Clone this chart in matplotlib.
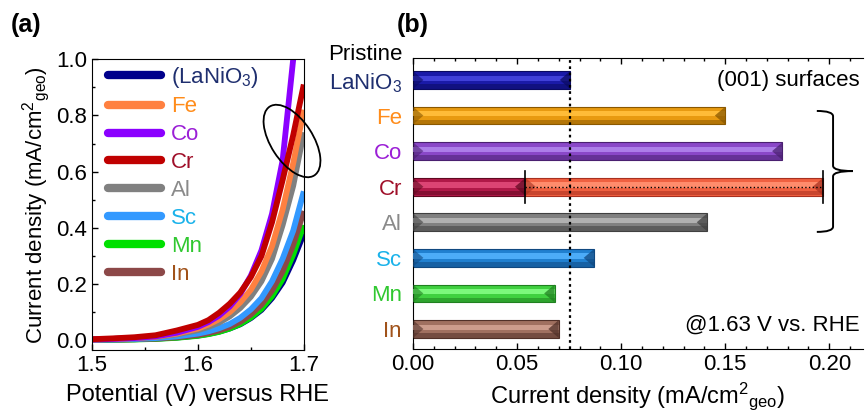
import matplotlib
matplotlib.use("Agg")
import matplotlib.pyplot as plt
from matplotlib.patches import Ellipse, Polygon, PathPatch
from matplotlib.path import Path
from matplotlib.lines import Line2D
from matplotlib.ticker import MultipleLocator, FormatStrFormatter
import numpy as np

plt.rcParams["font.family"] = ["Liberation Sans", "DejaVu Sans"]
plt.rcParams["mathtext.fontset"] = "custom"
plt.rcParams["mathtext.rm"] = "Liberation Sans"
plt.rcParams["mathtext.it"] = "Liberation Sans:italic"
plt.rcParams["mathtext.bf"] = "Liberation Sans:bold"

# ---- (a) polarisation curves ----
potential = [1.50, 1.52, 1.54, 1.56, 1.58, 1.60, 1.61, 1.62, 1.63, 1.64, 1.65, 1.66, 1.67, 1.68, 1.69, 1.70]
j_lanio3 = [0.002, 0.003, 0.004, 0.006, 0.010, 0.017, 0.023, 0.031, 0.042, 0.057, 0.079, 0.108, 0.150, 0.205, 0.285, 0.380]
j_fe = [0.003, 0.005, 0.008, 0.013, 0.024, 0.042, 0.056, 0.075, 0.100, 0.135, 0.180, 0.245, 0.335, 0.465, 0.630, 0.820]
j_co = [0.003, 0.005, 0.008, 0.014, 0.027, 0.048, 0.065, 0.088, 0.120, 0.165, 0.230, 0.320, 0.450, 0.640, 1.000, 1.400]
j_cr = [0.004, 0.007, 0.011, 0.018, 0.035, 0.055, 0.072, 0.098, 0.130, 0.170, 0.225, 0.300, 0.420, 0.570, 0.730, 0.910]
j_al = [0.003, 0.005, 0.008, 0.012, 0.021, 0.036, 0.048, 0.063, 0.085, 0.115, 0.155, 0.210, 0.290, 0.410, 0.550, 0.740]
j_sc = [0.002, 0.003, 0.005, 0.008, 0.014, 0.024, 0.032, 0.043, 0.058, 0.080, 0.110, 0.150, 0.210, 0.290, 0.390, 0.530]
j_mn = [0.001, 0.002, 0.003, 0.005, 0.009, 0.016, 0.022, 0.030, 0.042, 0.058, 0.081, 0.112, 0.157, 0.218, 0.305, 0.410]
j_in = [0.002, 0.003, 0.004, 0.006, 0.011, 0.019, 0.026, 0.035, 0.048, 0.066, 0.092, 0.127, 0.177, 0.245, 0.340, 0.460]

legend_names = ["(LaNiO$_3$)", "Fe", "Co", "Cr", "Al", "Sc", "Mn", "In"]
line_colors = ["#00008b", "#ff8040", "#8b00ff", "#c00000", "#808080", "#3399ff", "#00e000", "#8c4848"]
text_colors = ["#1f2f6f", "#ff8c1a", "#9b1fd6", "#a0102a", "#8a8a8a", "#1ab2ea", "#30c830", "#a0521a"]
curves = [j_lanio3, j_fe, j_co, j_cr, j_al, j_sc, j_mn, j_in]

# ---- (b) current density at 1.63 V ----
samples = ["LaNiO$_3$", "Fe", "Co", "Cr", "Al", "Sc", "Mn", "In"]
j_163 = [0.0755, 0.150, 0.1775, 0.197, 0.1413, 0.087, 0.068, 0.070]
cr_low = 0.054
bar_base = ["#1a1aa8", "#e89a10", "#8a48c8", "#f06040", "#808080", "#2080d0", "#40d040", "#a07060"]
bar_light = ["#4040d8", "#ffbc38", "#ac7ee8", "#ff8c6c", "#b0b0b0", "#4cacf8", "#7cf87c", "#cc9c8c"]
bar_dark = ["#0a0a60", "#8a5800", "#4a2070", "#a83020", "#404040", "#104880", "#208020", "#503028"]
cr_inner = ("#b01848", "#dc4474", "#600820")

fig = plt.figure(figsize=(8.68, 4.11), dpi=100)
ax1 = fig.add_axes([0.106, 0.148, 0.244, 0.708])
ax2 = fig.add_axes([0.4758, 0.151, 0.518, 0.708])

# draw order keeps the steep curves on top
for i in [0, 6, 7, 5, 4, 1, 2, 3]:
    ax1.plot(potential, curves[i], color=line_colors[i], lw=4.2, solid_capstyle="butt")

ax1.set_xlim(1.5, 1.7)
ax1.set_ylim(-0.035, 1.0)
ax1.xaxis.set_major_locator(MultipleLocator(0.1))
ax1.xaxis.set_minor_locator(MultipleLocator(0.05))
ax1.yaxis.set_major_locator(MultipleLocator(0.2))
ax1.yaxis.set_minor_locator(MultipleLocator(0.1))
ax1.tick_params(which="both", direction="in", labelsize=16, width=1)
ax1.tick_params(which="major", length=4)
ax1.tick_params(which="minor", length=2.5)
ax1.set_xlabel("Potential (V) versus RHE", fontsize=17, labelpad=6)
ax1.set_ylabel("Current density (mA/cm$^2{}_{\\mathrm{geo}}$)", fontsize=16, labelpad=3)

handles = [Line2D([], [], color=c, lw=6, solid_capstyle="round") for c in line_colors]
leg = ax1.legend(handles, legend_names, loc="upper left", bbox_to_anchor=(0.0, 1.035),
                 frameon=False, fontsize=16, handlelength=2.4, handletextpad=0.45,
                 labelspacing=0.31, borderaxespad=0.3, labelcolor=text_colors)

# ring around the high-activity curves
ring = Ellipse((2.92, 2.70), 0.82, 0.42, angle=-57, transform=fig.dpi_scale_trans,
               fill=False, edgecolor="black", lw=1.3, clip_on=False)
fig.add_artist(ring)

# ---- bars with a bevelled look ----
ypos = np.arange(len(samples))
h = 0.5
bevel = 0.005


def bevel_bar(ax, y, x0, x1, base, light, dark):
    ax.barh(y, x1 - x0, left=x0, height=h, color=base, edgecolor=dark, lw=0.8, zorder=2)
    ax.barh(y - h * 0.1, x1 - x0, left=x0, height=h * 0.3, color=light, lw=0, zorder=3)
    ax.barh(y + h * 0.36, x1 - x0, left=x0, height=h * 0.26, color=dark, alpha=0.55, lw=0, zorder=3)
    ax.add_patch(Polygon([(x1, y - h / 2), (x1 - bevel, y), (x1, y + h / 2)],
                         closed=True, color=dark, alpha=0.75, lw=0, zorder=4))
    ax.add_patch(Polygon([(x0, y - h / 2), (x0 + bevel, y), (x0, y + h / 2)],
                         closed=True, color=dark, alpha=0.6, lw=0, zorder=4))


for i, v in enumerate(j_163):
    if samples[i] == "Cr":
        bevel_bar(ax2, ypos[i], 0.0, cr_low, *cr_inner)
        bevel_bar(ax2, ypos[i], cr_low, v, bar_base[i], bar_light[i], bar_dark[i])
        ax2.plot([cr_low, v], [ypos[i], ypos[i]], color="black", ls=":", lw=1.0, zorder=5)
        for xe in (cr_low, v):
            ax2.plot([xe, xe], [ypos[i] - 0.45, ypos[i] + 0.45], color="black", lw=1.2, zorder=5)
    else:
        bevel_bar(ax2, ypos[i], 0.0, v, bar_base[i], bar_light[i], bar_dark[i])

ax2.axvline(j_163[0], color="black", ls=(0, (1.2, 1.6)), lw=1.6, zorder=6)

ax2.set_xlim(0, 0.216)
ax2.set_ylim(7.56, -0.62)
ax2.set_yticks(ypos)
ax2.set_yticklabels(samples, fontsize=16)
for lbl, c in zip(ax2.get_yticklabels(), text_colors):
    lbl.set_color(c)
ax2.text(-0.0052, -0.72, "Pristine", ha="right", va="center", fontsize=16, color="black", clip_on=False)
ax2.tick_params(axis="y", length=0, pad=8)
ax2.xaxis.set_major_locator(MultipleLocator(0.05))
ax2.xaxis.set_minor_locator(MultipleLocator(0.01))
ax2.xaxis.set_major_formatter(FormatStrFormatter("%.2f"))
ax2.tick_params(axis="x", which="both", direction="in", top=True, labelsize=16, width=1)
ax2.tick_params(axis="x", which="major", length=4)
ax2.tick_params(axis="x", which="minor", length=2.5)
ax2.spines["right"].set_visible(False)
ax2.set_xlabel("Current density (mA/cm$^2{}_{\\mathrm{geo}}$)", fontsize=17, labelpad=4)

ax2.text(0.2145, 0.0, "(001) surfaces", ha="right", va="center", fontsize=16)
ax2.text(0.2145, 6.9, "@1.63 V vs. RHE", ha="right", va="center", fontsize=16)

# curly brace grouping Fe, Co, Cr and Al
bx0, bx1, btip = 0.194, 0.2018, 0.2113
by0, bmid, by1 = 0.87, 2.56, 4.27
brace = Path(
    [(bx0, by0), (bx1, by0), (bx1, by0 + 0.15),
     (bx1, bmid - 0.15), (bx1, bmid), (btip, bmid),
     (bx1, bmid), (bx1, bmid + 0.15),
     (bx1, by1 - 0.15), (bx1, by1), (bx0, by1)],
    [Path.MOVETO, Path.CURVE3, Path.CURVE3,
     Path.LINETO, Path.CURVE3, Path.CURVE3,
     Path.CURVE3, Path.CURVE3,
     Path.LINETO, Path.CURVE3, Path.CURVE3])
ax2.add_patch(PathPatch(brace, fill=False, edgecolor="black", lw=1.4, clip_on=False, zorder=6))

fig.text(0.012, 0.94, "(a)", fontsize=18, fontweight="bold", va="center")
fig.text(0.457, 0.94, "(b)", fontsize=18, fontweight="bold", va="center")

fig.savefig("out.png", dpi=100)
